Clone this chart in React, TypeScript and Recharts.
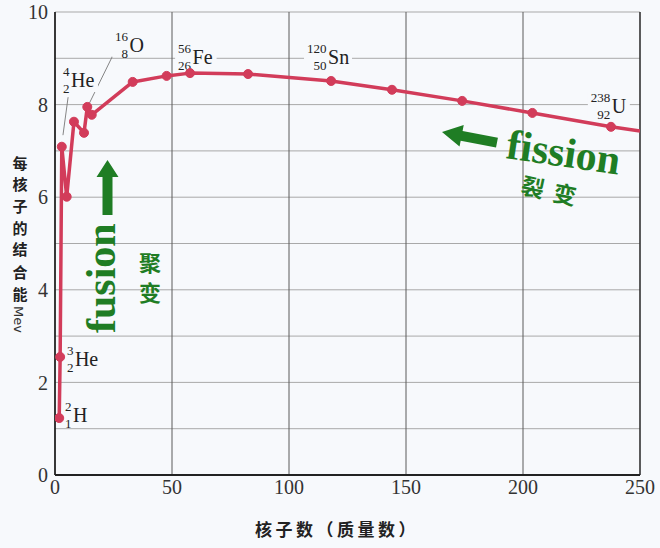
import React from "react";
import { CartesianGrid, Line, LineChart, ReferenceDot, ReferenceLine, XAxis, YAxis } from "recharts";

// binding energy per nucleon curve
const massNumbers = [1.8, 2.2, 2.9, 5.0, 8.1, 12.4, 13.8, 15.7, 33.2, 47.7, 57.7, 82.5, 118, 144, 174, 204, 237.6, 250];
const bindingEnergy = [1.23, 2.55, 7.09, 6.01, 7.63, 7.39, 7.95, 7.78, 8.49, 8.62, 8.68, 8.66, 8.51, 8.32, 8.08, 7.82, 7.52, 7.43];

const xTicks = [0, 50, 100, 150, 200, 250];
const yTicks = [0, 2, 4, 6, 8, 10];
const xGrid = [50, 100, 150, 200, 250];
const yGrid = [1, 2, 3, 4, 5, 6, 7, 8, 9, 10];

// nuclide labels (left edge / vertical centre in data units)
const nuclideSymbol = ["H", "He", "He", "O", "Fe", "Sn", "U"];
const nuclideMass = ["2", "3", "4", "16", "56", "120", "238"];
const nuclideCharge = ["1", "2", "2", "8", "26", "50", "92"];
const nuclideLabelA = [4.3, 5.1, 3.4, 25.6, 52.6, 107.7, 229];
const nuclideLabelE = [1.3, 2.5, 8.53, 9.29, 9.03, 9.03, 7.97];

// thin leader lines from label to point
const leaderFrom = [
  { x: 5.6, y: 8.16 },
  { x: 24.8, y: 9.07 },
];
const leaderTo = [
  { x: 3.4, y: 7.34 },
  { x: 14.5, y: 8.01 },
];

const data = massNumbers.map((a, i) => ({ a, e: bindingEnergy[i] }));

const BG = "#f7f9fc";
const RED = "#d23c5a";
const GREEN = "#1f7d24";
const SERIF = "'Liberation Serif', 'DejaVu Serif', serif";
const CJK = "'Noto Sans CJK SC', sans-serif";

const symbolWidth: Record<string, number> = { H: 15, He: 24, O: 15, Fe: 21, Sn: 21, U: 15 };

function NuclideLabel({ cx, cy, mass, charge, symbol }: any) {
  if (cx == null || cy == null) return null;
  const numRight = cx + mass.length * 6.5;
  const w = numRight + 1.5 + symbolWidth[symbol] - cx + 6;
  return (
    <g>
      <rect x={cx - 3} y={cy - 14} width={w} height={26} fill={BG} />
      <text x={numRight} y={cy - 4} textAnchor="end" fontSize={13} fontFamily={SERIF} fill="#222">
        {mass}
      </text>
      <text x={numRight} y={cy + 13} textAnchor="end" fontSize={13} fontFamily={SERIF} fill="#222">
        {charge}
      </text>
      <text x={numRight + 1.5} y={cy + 7} fontSize={20} fontFamily={SERIF} fill="#222">
        {symbol}
      </text>
    </g>
  );
}

function Dot(props: any) {
  const { cx, cy, index } = props;
  if (index === data.length - 1) return <g key={index} />;
  return <circle key={index} cx={cx} cy={cy} r={4.5} fill={RED} stroke={RED} />;
}

const yTitle = ["每", "核", "子", "的", "结", "合", "能"];
const yTitleY = [162, 183, 205, 227, 248, 271, 293];

export default function App() {
  return (
    <div style={{ position: "fixed", left: 0, top: 0, width: 660, height: 548, background: BG }}>
      <LineChart width={660} height={548} data={data} margin={{ top: 12, right: 20, bottom: 0, left: 0 }}>
        <CartesianGrid
          horizontalValues={yGrid}
          verticalValues={xGrid}
          horizontal={(p: any) => (
            <line key={`h${p.y1}`} x1={p.x1} y1={p.y1} x2={p.x2} y2={p.y2} stroke="#a9a9a9" strokeWidth={1} />
          )}
          vertical={(p: any) => (
            <line
              key={`v${p.x1}`}
              x1={p.x1}
              y1={p.y1}
              x2={p.x2}
              y2={p.y2}
              stroke={p.x1 > 630 ? "#333" : "#5a5a5a"}
              strokeWidth={p.x1 > 630 ? 1.6 : 1}
            />
          )}
        />
        <XAxis
          dataKey="a"
          type="number"
          domain={[0, 250]}
          ticks={xTicks}
          height={73}
          tickSize={0}
          tickMargin={5}
          axisLine={{ stroke: "#222", strokeWidth: 1.8 }}
          tick={{ fill: "#333", fontSize: 20, fontFamily: SERIF }}
          allowDataOverflow
        />
        <YAxis
          type="number"
          domain={[0, 10]}
          ticks={yTicks}
          width={55}
          tickSize={0}
          tickMargin={7}
          axisLine={{ stroke: "#222", strokeWidth: 1.8 }}
          tick={{ fill: "#333", fontSize: 20, fontFamily: SERIF }}
        />
        {leaderFrom.map((f, i) => (
          <ReferenceLine key={`l${i}`} segment={[f, leaderTo[i]]} stroke="#777" strokeWidth={0.9} ifOverflow="visible" />
        ))}
        {nuclideSymbol.map((s, i) => (
          <ReferenceDot
            key={`n${i}`}
            x={nuclideLabelA[i]}
            y={nuclideLabelE[i]}
            r={0}
            ifOverflow="visible"
            shape={(p: any) => (
              <NuclideLabel cx={p.cx} cy={p.cy} mass={nuclideMass[i]} charge={nuclideCharge[i]} symbol={s} />
            )}
          />
        ))}
        <Line
          type="linear"
          dataKey="e"
          stroke={RED}
          strokeWidth={3.5}
          strokeLinejoin="round"
          dot={Dot}
          activeDot={false}
          isAnimationActive={false}
        />
      </LineChart>

      <svg width={660} height={548} style={{ position: "absolute", left: 0, top: 0, pointerEvents: "none" }}>
        {yTitle.map((c, i) => (
          <text
            key={c + i}
            x={20}
            y={yTitleY[i]}
            textAnchor="middle"
            dominantBaseline="central"
            fontSize={15}
            fontWeight={700}
            fontFamily={CJK}
            fill="#222"
          >
            {c}
          </text>
        ))}
        <text transform="translate(14,306) rotate(90)" fontSize={13} fontFamily="'DejaVu Sans', sans-serif" fill="#333">
          Mev
        </text>
        <text x={255} y={536} fontSize={17} fontWeight={700} letterSpacing={3.5} fontFamily={CJK} fill="#222">
          核子数（质量数）
        </text>

        {/* fusion */}
        <polygon points="107.5,160 96.5,177 102.5,177 102.5,215 112.5,215 112.5,177 118.5,177" fill={GREEN} />
        <text transform="translate(115,333) rotate(-90)" fontSize={42} fontWeight={700} fontFamily={SERIF} fill={GREEN}>
          fusion
        </text>
        <text x={150} y={261} textAnchor="middle" dominantBaseline="central" fontSize={22} fontWeight={700} fontFamily={CJK} fill={GREEN}>
          聚
        </text>
        <text x={150} y={291} textAnchor="middle" dominantBaseline="central" fontSize={22} fontWeight={700} fontFamily={CJK} fill={GREEN}>
          变
        </text>

        {/* fission */}
        <polygon
          points="0,0 20,-11 20,-5 56,-5 56,5 20,5 20,11"
          transform="translate(442,132) rotate(11)"
          fill={GREEN}
        />
        <text transform="translate(505,158) rotate(8.4)" fontSize={42} fontWeight={700} fontFamily={SERIF} fill={GREEN}>
          fission
        </text>
        <text transform="translate(533,186) rotate(12)" textAnchor="middle" dominantBaseline="central" fontSize={23} fontWeight={700} fontFamily={CJK} fill={GREEN}>
          裂
        </text>
        <text transform="translate(565,193) rotate(12)" textAnchor="middle" dominantBaseline="central" fontSize={23} fontWeight={700} fontFamily={CJK} fill={GREEN}>
          变
        </text>
      </svg>
    </div>
  );
}
